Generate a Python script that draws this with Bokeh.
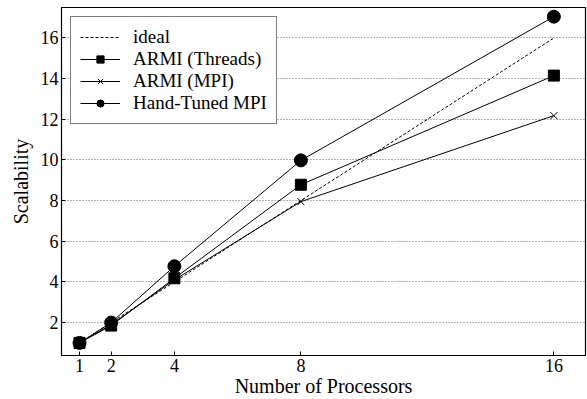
from bokeh.plotting import figure
from bokeh.models import Legend, LegendItem, FixedTicker, Range1d
from bokeh.embed import file_html
from bokeh.resources import INLINE

procs = [1, 2, 4, 8, 16]
ideal = [1, 2, 4, 8, 16]
armi_threads = [1, 1.85, 4.18, 8.78, 14.15]
armi_mpi = [1, 1.9, 4.1, 7.95, 12.18]
hand_mpi = [1, 2.0, 4.77, 9.98, 17.05]
x_ticks = [1, 2, 4, 8, 16]
y_ticks = [2, 4, 6, 8, 10, 12, 14, 16]

FONT = "Liberation Serif"

p = figure(width=587, height=399, output_backend="svg", toolbar_location=None,
           x_range=Range1d(0.43, 17.0), y_range=Range1d(0.38, 17.5),
           min_border_left=61, min_border_right=2, min_border_top=7, min_border_bottom=43)
p.outline_line_color = "black"
p.outline_line_width = 1.2
p.background_fill_color = "white"
p.border_fill_color = "white"

p.xgrid.grid_line_color = None
p.ygrid.grid_line_color = "#444444"
p.ygrid.grid_line_dash = "1 2"
p.ygrid.grid_line_width = 0.8
p.xaxis.ticker = FixedTicker(ticks=x_ticks)
p.yaxis.ticker = FixedTicker(ticks=y_ticks)
p.ygrid.ticker = FixedTicker(ticks=y_ticks)

for ax in (p.xaxis[0], p.yaxis[0]):
    ax.axis_line_color = "black"
    ax.major_label_text_font = FONT
    ax.major_label_text_font_size = "18px"
    ax.major_label_text_color = "black"
    ax.axis_label_text_font = FONT
    ax.axis_label_text_font_size = "20px"
    ax.axis_label_text_font_style = "normal"
    ax.axis_label_text_color = "black"
    ax.minor_tick_line_color = None
    ax.major_tick_in = 4
    ax.major_tick_out = 0
p.xaxis.axis_label = "Number of Processors"
p.yaxis.axis_label = "Scalability"
p.xaxis.axis_label_standoff = 0
p.yaxis.axis_label_standoff = 6
p.yaxis.major_label_standoff = 3
p.xaxis.major_label_standoff = 3

r_ideal = p.line(procs, ideal, line_color="black", line_dash="3 2", line_width=1)
l_thr = p.line(procs, armi_threads, line_color="black", line_width=1)
m_thr = p.scatter(procs, armi_threads, marker="square", size=11, fill_color="black", line_color="black")
l_mpi = p.line(procs, armi_mpi, line_color="black", line_width=1)
m_mpi = p.scatter(procs, armi_mpi, marker="x", size=10, line_color="black", line_width=1)
l_hand = p.line(procs, hand_mpi, line_color="black", line_width=1)
m_hand = p.scatter(procs, hand_mpi, marker="circle", size=13, fill_color="black", line_color="black")

legend = Legend(items=[
    LegendItem(label="ideal", renderers=[r_ideal]),
    LegendItem(label="ARMI (Threads)", renderers=[l_thr, m_thr]),
    LegendItem(label="ARMI (MPI)", renderers=[l_mpi, m_mpi]),
    LegendItem(label="Hand-Tuned MPI", renderers=[l_hand, m_hand]),
], location="top_left")
legend.label_text_font = FONT
legend.label_text_font_size = "19px"
legend.label_text_color = "black"
legend.glyph_width = 40
legend.glyph_height = 18
legend.label_height = 18
legend.spacing = 0
legend.label_standoff = 13
legend.padding = 9
legend.margin = 9
legend.border_line_color = "black"
legend.border_line_width = 1
legend.background_fill_alpha = 1
p.add_layout(legend)

open("out.html", "w").write(file_html(p, INLINE))
